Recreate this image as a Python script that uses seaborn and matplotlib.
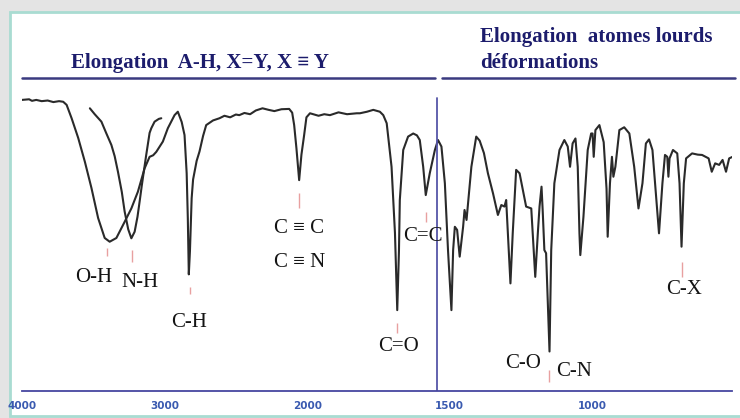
import numpy as np
import matplotlib
matplotlib.use("Agg")
import matplotlib.pyplot as plt
from matplotlib.patches import Rectangle
from matplotlib.lines import Line2D
import seaborn as sns

# ---------------- data (wavenumber cm-1, transmittance %) ----------------
main_wn = [4000, 3950, 3930, 3900, 3862, 3820, 3780, 3740, 3711, 3687, 3652, 3606,
           3559, 3513, 3466, 3420, 3385, 3338, 3280, 3233, 3187, 3140, 3105, 3080,
           3058, 3012, 2977, 2930, 2907, 2880, 2860, 2845, 2837, 2830, 2822, 2810,
           2800, 2775, 2755, 2730, 2708, 2660, 2615, 2580, 2540, 2500, 2476, 2440,
           2400, 2360, 2313, 2270, 2230, 2180, 2126, 2105, 2091, 2075, 2056, 2040,
           2021, 2005, 1990, 1960, 1940, 1920, 1890, 1860, 1826, 1815, 1790, 1768,
           1745, 1733, 1721, 1704, 1692, 1684, 1678, 1675, 1663, 1646, 1628, 1615,
           1605, 1593, 1584, 1570, 1552, 1541, 1529, 1517, 1506, 1494, 1488, 1482,
           1474, 1465, 1453, 1448, 1441, 1424, 1407, 1395, 1380, 1366, 1348, 1331,
           1319, 1308, 1302, 1293, 1287, 1279, 1267, 1255, 1232, 1214, 1209, 1200,
           1191, 1185, 1178, 1174, 1168, 1162, 1150, 1144, 1133, 1115, 1098, 1086,
           1078, 1069, 1059, 1051, 1045, 1042, 1031, 1016, 1004, 999, 995, 989,
           975, 960, 950, 946, 938, 931, 926, 919, 905, 888, 870, 853,
           838, 824, 812, 801, 789, 777, 766, 754, 745, 737, 733, 729,
           717, 702, 694, 687, 679, 671, 650, 630, 615, 592, 581, 569,
           555, 543, 531, 520, 508]
main_t = [93.6, 93.8, 93.3, 93.6, 93.2, 93.4, 92.9, 93.2, 93.0, 92.0, 87.7, 81.4,
          73.7, 65.3, 55.6, 49.2, 48.0, 49.2, 54.4, 58.7, 64.1, 71.6, 75.3, 75.8,
          76.9, 80.2, 84.5, 88.7, 89.8, 86.5, 82.3, 70.0, 55.6, 37.5, 45.0, 62.0,
          68.0, 74.0, 77.0, 82.0, 85.5, 87.0, 87.7, 88.5, 88.0, 88.9, 88.7, 89.4,
          89.0, 90.2, 90.9, 90.4, 90.0, 90.6, 90.7, 89.5, 85.5, 78.0, 67.8, 76.0,
          82.3, 88.0, 89.3, 88.5, 89.0, 88.7, 89.6, 89.0, 89.3, 89.3, 89.8, 90.4,
          89.8, 88.7, 86.1, 72.1, 50.8, 26.0, 45.0, 61.4, 77.5, 81.8, 82.8, 82.2,
          80.7, 72.1, 63.0, 70.0, 77.5, 80.7, 78.6, 66.8, 45.3, 26.0, 45.3, 52.8,
          51.8, 43.2, 52.8, 58.2, 55.0, 72.1, 81.8, 80.5, 76.5, 70.0, 63.5, 56.6,
          59.8, 59.3, 61.4, 45.3, 34.6, 50.7, 71.1, 70.0, 59.3, 58.7, 50.7, 36.7,
          50.7, 59.3, 65.7, 58.2, 45.3, 44.3, 12.7, 45.3, 66.8, 77.5, 80.7, 78.6,
          72.1, 79.6, 81.2, 72.1, 50.7, 43.7, 56.0, 77.5, 82.8, 82.8, 75.3, 83.9,
          85.5, 80.0, 65.0, 49.6, 66.8, 75.3, 68.9, 72.1, 83.9, 84.8, 82.8, 72.1,
          58.7, 66.8, 79.6, 80.9, 77.5, 63.5, 50.7, 66.8, 75.9, 75.3, 68.9, 74.8,
          77.5, 76.4, 66.8, 46.4, 66.8, 74.8, 76.4, 76.0, 75.9, 74.8, 70.5, 73.2,
          72.7, 74.3, 70.5, 74.8, 75.3]

nh_wn = [3524, 3490, 3443, 3410, 3373, 3350, 3327, 3300, 3280, 3255, 3233, 3210,
         3190, 3175, 3160, 3130, 3105, 3093, 3070, 3040, 3023]
nh_t = [90.9, 89.0, 86.6, 83.0, 79.1, 75.5, 70.5, 64.0, 57.7, 52.0, 49.1, 51.2,
        56.0, 60.9, 66.0, 75.5, 83.0, 84.5, 86.6, 87.5, 87.7]

label_text = ["O-H", "N-H", "C-H", "C ≡ C", "C ≡ N", "C=O", "C=C", "C-O", "C-N", "C-X"]
label_wn = [3500, 3175, 2825, 2056, 2056, 1681, 1593, 1243, 1063, 679]
label_t = [36.5, 35.0, 21.9, 52.3, 41.3, 14.2, 49.8, 8.9, 6.2, 32.5]

mark_wn = [3403, 3226, 2825, 2056, 1686, 1584, 1153, 685]
mark_top = [46.0, 45.3, 33.4, 63.7, 21.9, 57.7, 6.8, 41.6]
mark_bot = [43.4, 41.5, 31.2, 58.8, 18.6, 54.4, 3.0, 36.8]

major_ticks = [4000, 3000, 2000, 1500, 1000]
major_labels = ["4000", "3000", "2000", "1500", "1000"]
minor_ticks = [3800, 3600, 3400, 3200, 2800, 2600, 2400, 2200,
               1900, 1800, 1700, 1600, 1400, 1300, 1200, 1100, 900, 800, 700, 600]
divider_wn = 1545
x_left, x_right = 4000, 510

title_left = "Elongation  A-H, X=Y, X ≡ Y"
title_right_1 = "Elongation  atomes lourds"
title_right_2 = "déformations"

# ---------------- figure ----------------
sns.set_style("white")
W, H = 740, 418
fig = plt.figure(figsize=(W / 100, H / 100), dpi=100)
fig.patch.set_facecolor("#e4e4e4")

frame = Rectangle((10 / W, 2 / H), 1.0, 1 - 14 / H, transform=fig.transFigure,
                  facecolor="white", edgecolor="#a9dcd2", lw=2, zorder=0)
fig.add_artist(frame)

ax = fig.add_axes([22 / W, 1 - 391 / H, (732 - 22) / W, (391 - 80) / H])
ax.patch.set_alpha(0)

sns.lineplot(x=main_wn, y=main_t, sort=False, estimator=None, ax=ax,
             color="#2a2a2a", lw=1.5)
sns.lineplot(x=nh_wn, y=nh_t, sort=False, estimator=None, ax=ax,
             color="#2a2a2a", lw=1.5)


def fwd(w):
    w = np.asarray(w, dtype=float)
    return np.where(w >= 2000, w / 1000.0, w / 500.0 - 2.0)


def inv(u):
    u = np.asarray(u, dtype=float)
    return np.where(u >= 2, u * 1000.0, (u + 2.0) * 500.0)


ax.set_xscale("function", functions=(fwd, inv))
ax.set_xlim(x_left, x_right)
ax.set_ylim(0, 100)

axis_col = "#4646a0"
for s in ["top", "right", "left"]:
    ax.spines[s].set_visible(False)
ax.spines["bottom"].set_color(axis_col)
ax.spines["bottom"].set_linewidth(1.3)

ax.set_xticks(major_ticks + [x_right])
ax.set_xticklabels(major_labels + [""])
ax.set_xticks(minor_ticks, minor=True)
ax.tick_params(axis="x", which="major", direction="inout", length=11.5, width=1.1,
               color=axis_col, labelcolor="#3a5ab0", labelsize=7.5, pad=1.5)
ax.tick_params(axis="x", which="minor", direction="in", length=5.8, width=1.1,
               color=axis_col)
for t in ax.get_xticklabels():
    t.set_fontweight("bold")
ax.set_yticks([])
ax.set_xlabel("")
ax.set_ylabel("")

ax.axvline(divider_wn, ymin=0, ymax=0.942, color="#5656a8", lw=1.3)

ax.vlines(mark_wn, mark_bot, mark_top, color="#e8a0a0", lw=1.0)

serif = ["Liberation Serif", "DejaVu Serif"]
for txt, w, t in zip(label_text, label_wn, label_t):
    ax.text(w, t, txt, ha="center", va="center", fontsize=15, family=serif,
            color="#141414")

# header
navy = "#1c1c6c"
fig.text(200 / W, 1 - 68 / H, title_left, ha="center", va="baseline",
         fontsize=15, fontweight="bold", family=serif, color=navy)
fig.text(480 / W, 1 - 42 / H, title_right_1, ha="left", va="baseline",
         fontsize=15, fontweight="bold", family=serif, color=navy)
fig.text(480 / W, 1 - 68 / H, title_right_2, ha="left", va="baseline",
         fontsize=15, fontweight="bold", family=serif, color=navy)

line_col = "#3a3a80"
fig.add_artist(Line2D([22 / W, 435 / W], [1 - 78 / H] * 2, color=line_col, lw=1.8,
                      transform=fig.transFigure))
fig.add_artist(Line2D([442 / W, 735 / W], [1 - 78 / H] * 2, color=line_col, lw=1.8,
                      transform=fig.transFigure))

fig.savefig("out.png", dpi=100, facecolor=fig.get_facecolor())
